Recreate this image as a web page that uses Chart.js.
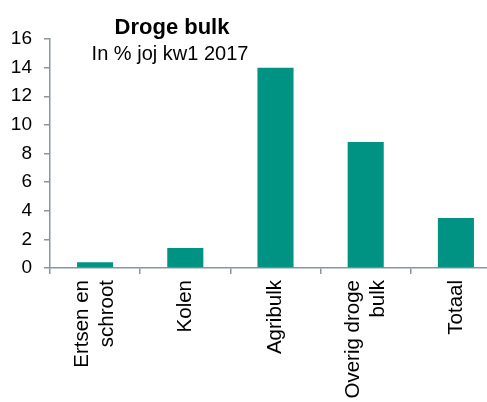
<!DOCTYPE html>
<html>
<head>
<meta charset="utf-8">
<script src="https://cdn.jsdelivr.net/npm/chart.js@4.4.0/dist/chart.umd.min.js"></script>
<style>
  html, body { margin: 0; padding: 0; background: #fff; overflow: hidden; }
  #wrap { width: 501px; height: 402px; }
</style>
</head>
<body>
<div id="wrap"><canvas id="chart" width="501" height="402"></canvas></div>
<script>
const categories = [['Ertsen en', 'schroot'], 'Kolen', 'Agribulk', ['Overig droge', 'bulk'], 'Totaal'];
const values = [0.4, 1.4, 14.0, 8.8, 3.5];
const yTicks = [0, 2, 4, 6, 8, 10, 12, 14, 16];
const titleText = 'Droge bulk';
const subtitleText = 'In % joj kw1 2017';

const axisColor = '#8c949c';
const barColor = '#009384';
const font = 'Liberation Sans, Arial, sans-serif';
const xFontSize = 20.5;
const xLineHeight = 1.22;

// title sits inside the plot, left of centre
const titlePlugin = {
    id: 'overlayTitle',
    afterDraw: function (chart) {
        const ctx = chart.ctx;
        ctx.save();
        ctx.fillStyle = '#000';
        ctx.textAlign = 'center';
        ctx.textBaseline = 'alphabetic';
        ctx.font = 'bold 22px ' + font;
        ctx.fillText(titleText, 172, 34);
        ctx.font = '20px ' + font;
        ctx.fillText(subtitleText, 170, 60);
        ctx.restore();
    }
};

new Chart(document.getElementById('chart').getContext('2d'), {
    type: 'bar',
    data: {
        labels: categories,
        datasets: [{
            data: values,
            backgroundColor: barColor,
            borderWidth: 0,
            categoryPercentage: 1,
            barPercentage: 0.4
        }]
    },
    options: {
        responsive: false,
        animation: false,
        layout: { padding: { top: 39, left: 0, right: 0, bottom: 0 } },
        plugins: {
            legend: { display: false },
            title: { display: false },
            tooltip: { enabled: false }
        },
        scales: {
            x: {
                afterFit: function (scale) { scale.height = 134; },
                grid: {
                    offset: true,
                    drawOnChartArea: false,
                    drawTicks: true,
                    tickLength: 6,
                    color: axisColor,
                    lineWidth: 1.5
                },
                border: { color: axisColor, width: 1.5 },
                ticks: {
                    color: '#000',
                    font: { family: font, size: xFontSize, lineHeight: xLineHeight },
                    minRotation: 90,
                    maxRotation: 90,
                    padding: 6,
                    autoSkip: false,
                    // centre two-line labels on the category; single lines skip the rotation shift
                    labelOffset: -xFontSize * xLineHeight / 2,
                    showLabelBackdrop: function (ctx) {
                        return !Array.isArray(ctx.tick && ctx.tick.label);
                    },
                    backdropColor: 'rgba(0,0,0,0)',
                    backdropPadding: 0
                }
            },
            y: {
                min: 0,
                max: 16,
                afterFit: function (scale) { scale.width = 50; },
                afterBuildTicks: function (scale) {
                    scale.ticks = yTicks.map(function (v) { return { value: v }; });
                },
                grid: {
                    drawOnChartArea: false,
                    drawTicks: true,
                    tickLength: 6,
                    color: axisColor,
                    lineWidth: 1.5
                },
                border: { color: axisColor, width: 1.5 },
                ticks: {
                    color: '#000',
                    font: { family: font, size: 19 },
                    padding: 12
                }
            }
        }
    },
    plugins: [titlePlugin]
});
</script>
</body>
</html>
